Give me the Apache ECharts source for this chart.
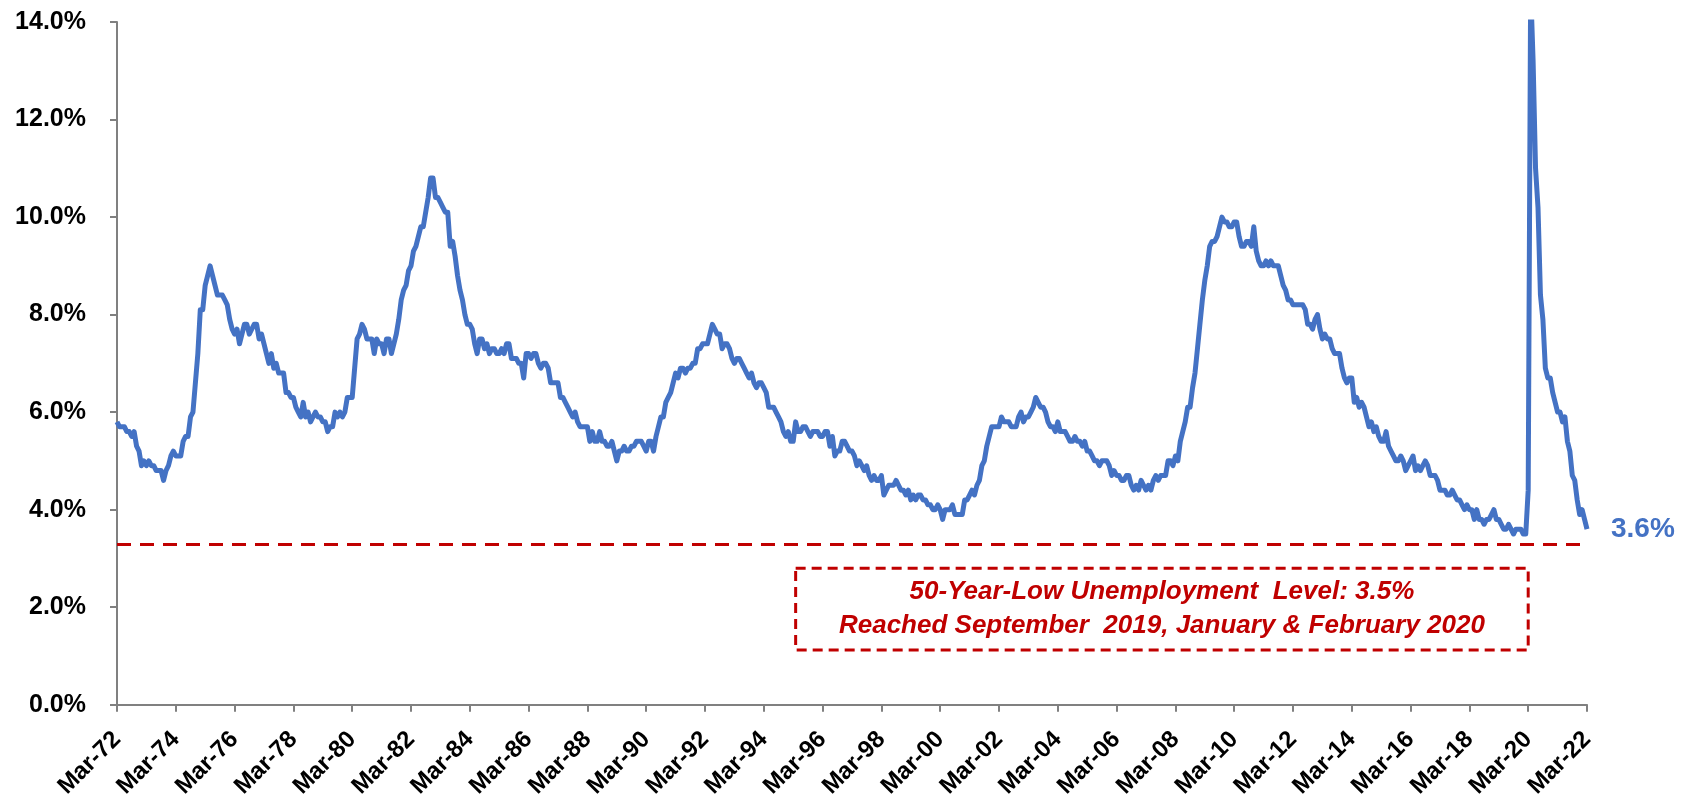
<!DOCTYPE html>
<html>
<head>
<meta charset="utf-8">
<script src="https://cdn.jsdelivr.net/npm/echarts@6/dist/echarts.min.js"></script>
<style>
html,body{margin:0;padding:0;background:#fff;}
#chart{width:1692px;height:801px;}
</style>
</head>
<body>
<div id="chart"></div>
<script>
// US unemployment rate (%), monthly, Mar-1972 .. Mar-2022
const u1970s = [
  5.8, 5.7, 5.7, 5.7, 5.6, 5.6, 5.5, 5.6, 5.3, 5.2,
  4.9, 5.0, 4.9, 5.0, 4.9, 4.9, 4.8, 4.8, 4.8, 4.6, 4.8, 4.9,
  5.1, 5.2, 5.1, 5.1, 5.1, 5.4, 5.5, 5.5, 5.9, 6.0, 6.6, 7.2,
  8.1, 8.1, 8.6, 8.8, 9.0, 8.8, 8.6, 8.4, 8.4, 8.4, 8.3, 8.2,
  7.9, 7.7, 7.6, 7.7, 7.4, 7.6, 7.8, 7.8, 7.6, 7.7, 7.8, 7.8,
  7.5, 7.6, 7.4, 7.2, 7.0, 7.2, 6.9, 7.0, 6.8, 6.8, 6.8, 6.4,
  6.4, 6.3, 6.3, 6.1, 6.0, 5.9, 6.2, 5.9, 6.0, 5.8, 5.9, 6.0,
  5.9, 5.9, 5.8, 5.8, 5.6, 5.7, 5.7, 6.0, 5.9, 6.0, 5.9, 6.0
];
const u1980s = [
  6.3, 6.3, 6.3, 6.9, 7.5, 7.6, 7.8, 7.7, 7.5, 7.5, 7.5, 7.2,
  7.5, 7.4, 7.4, 7.2, 7.5, 7.5, 7.2, 7.4, 7.6, 7.9, 8.3, 8.5,
  8.6, 8.9, 9.0, 9.3, 9.4, 9.6, 9.8, 9.8, 10.1, 10.4, 10.8, 10.8,
  10.4, 10.4, 10.3, 10.2, 10.1, 10.1, 9.4, 9.5, 9.2, 8.8, 8.5, 8.3,
  8.0, 7.8, 7.8, 7.7, 7.4, 7.2, 7.5, 7.5, 7.3, 7.4, 7.2, 7.3,
  7.3, 7.2, 7.2, 7.3, 7.2, 7.4, 7.4, 7.1, 7.1, 7.1, 7.0, 7.0,
  6.7, 7.2, 7.2, 7.1, 7.2, 7.2, 7.0, 6.9, 7.0, 7.0, 6.9, 6.6,
  6.6, 6.6, 6.6, 6.3, 6.3, 6.2, 6.1, 6.0, 5.9, 6.0, 5.8, 5.7,
  5.7, 5.7, 5.7, 5.4, 5.6, 5.4, 5.4, 5.6, 5.4, 5.4, 5.3, 5.3,
  5.4, 5.2, 5.0, 5.2, 5.2, 5.3, 5.2, 5.2, 5.3, 5.3, 5.4, 5.4
];
const u1990s = [
  5.4, 5.3, 5.2, 5.4, 5.4, 5.2, 5.5, 5.7, 5.9, 5.9, 6.2, 6.3,
  6.4, 6.6, 6.8, 6.7, 6.9, 6.9, 6.8, 6.9, 6.9, 7.0, 7.0, 7.3,
  7.3, 7.4, 7.4, 7.4, 7.6, 7.8, 7.7, 7.6, 7.6, 7.3, 7.4, 7.4,
  7.3, 7.1, 7.0, 7.1, 7.1, 7.0, 6.9, 6.8, 6.7, 6.8, 6.6, 6.5,
  6.6, 6.6, 6.5, 6.4, 6.1, 6.1, 6.1, 6.0, 5.9, 5.8, 5.6, 5.5,
  5.6, 5.4, 5.4, 5.8, 5.6, 5.6, 5.7, 5.7, 5.6, 5.5, 5.6, 5.6,
  5.6, 5.5, 5.5, 5.6, 5.6, 5.3, 5.5, 5.1, 5.2, 5.2, 5.4, 5.4,
  5.3, 5.2, 5.2, 5.1, 4.9, 5.0, 4.9, 4.8, 4.9, 4.7, 4.6, 4.7,
  4.6, 4.6, 4.7, 4.3, 4.4, 4.5, 4.5, 4.5, 4.6, 4.5, 4.4, 4.4,
  4.3, 4.4, 4.2, 4.3, 4.2, 4.3, 4.3, 4.2, 4.2, 4.1, 4.1, 4.0
];
const u2000s = [
  4.0, 4.1, 4.0, 3.8, 4.0, 4.0, 4.0, 4.1, 3.9, 3.9, 3.9, 3.9,
  4.2, 4.2, 4.3, 4.4, 4.3, 4.5, 4.6, 4.9, 5.0, 5.3, 5.5, 5.7,
  5.7, 5.7, 5.7, 5.9, 5.8, 5.8, 5.8, 5.7, 5.7, 5.7, 5.9, 6.0,
  5.8, 5.9, 5.9, 6.0, 6.1, 6.3, 6.2, 6.1, 6.1, 6.0, 5.8, 5.7,
  5.7, 5.6, 5.8, 5.6, 5.6, 5.6, 5.5, 5.4, 5.4, 5.5, 5.4, 5.4,
  5.3, 5.4, 5.2, 5.2, 5.1, 5.0, 5.0, 4.9, 5.0, 5.0, 5.0, 4.9,
  4.7, 4.8, 4.7, 4.7, 4.6, 4.6, 4.7, 4.7, 4.5, 4.4, 4.5, 4.4,
  4.6, 4.5, 4.4, 4.5, 4.4, 4.6, 4.7, 4.6, 4.7, 4.7, 4.7, 5.0,
  5.0, 4.9, 5.1, 5.0, 5.4, 5.6, 5.8, 6.1, 6.1, 6.5, 6.8, 7.3,
  7.8, 8.3, 8.7, 9.0, 9.4, 9.5, 9.5, 9.6, 9.8, 10.0, 9.9, 9.9
];
const u2010s = [
  9.8, 9.8, 9.9, 9.9, 9.6, 9.4, 9.4, 9.5, 9.5, 9.4, 9.8, 9.3,
  9.1, 9.0, 9.0, 9.1, 9.0, 9.1, 9.0, 9.0, 9.0, 8.8, 8.6, 8.5,
  8.3, 8.3, 8.2, 8.2, 8.2, 8.2, 8.2, 8.1, 7.8, 7.8, 7.7, 7.9,
  8.0, 7.7, 7.5, 7.6, 7.5, 7.5, 7.3, 7.2, 7.2, 7.2, 6.9, 6.7,
  6.6, 6.7, 6.7, 6.2, 6.3, 6.1, 6.2, 6.1, 5.9, 5.7, 5.8, 5.6,
  5.7, 5.5, 5.4, 5.4, 5.6, 5.3, 5.2, 5.1, 5.0, 5.0, 5.1, 5.0,
  4.8, 4.9, 5.0, 5.1, 4.8, 4.9, 4.8, 4.9, 5.0, 4.9, 4.7, 4.7,
  4.7, 4.6, 4.4, 4.4, 4.4, 4.3, 4.3, 4.4, 4.3, 4.2, 4.2, 4.1,
  4.0, 4.1, 4.0, 4.0, 3.8, 4.0, 3.8, 3.8, 3.7, 3.8, 3.8, 3.9,
  4.0, 3.8, 3.8, 3.7, 3.6, 3.6, 3.7, 3.6, 3.5, 3.6, 3.6, 3.6
];
const u2020s = [
  3.5, 3.5, 4.4, 14.7, 13.2, 11.0, 10.2, 8.4, 7.9, 6.9, 6.7, 6.7,
  6.4, 6.2, 6.0, 6.0, 5.8, 5.9, 5.4, 5.2, 4.7, 4.6, 4.2, 3.9,
  4.0, 3.8, 3.6
];

const monthNames = ['Jan','Feb','Mar','Apr','May','Jun','Jul','Aug','Sep','Oct','Nov','Dec'];
const startYear = 1972, startMonth = 2; // March
const yTicks = [0, 2, 4, 6, 8, 10, 12, 14];
const lowLine = 3.3;               // dashed reference line position
const noteBox = { from: 'Apr-95', to: 'Mar-20', low: 1.12, high: 2.8 };
const noteLines = ['50-Year-Low Unemployment  Level: 3.5%', 'Reached September  2019, January & February 2020'];
const lastLabel = '3.6%';

const values = [].concat(u1970s, u1980s, u1990s, u2000s, u2010s, u2020s);
const categories = values.map((v, i) => {
  const m = startMonth + i;
  const y = startYear + Math.floor(m / 12);
  return monthNames[m % 12] + '-' + String(y % 100).padStart(2, '0');
});

const FONT = '"Liberation Sans", Arial, sans-serif';
const chart = echarts.init(document.getElementById('chart'), null, { renderer: 'canvas' });
chart.setOption({
  animation: false,
  backgroundColor: '#ffffff',
  grid: { left: 117, right: 105, top: 22, bottom: 96, containLabel: false },
  xAxis: {
    type: 'category',
    data: categories,
    boundaryGap: false,
    axisLine: { show: true, lineStyle: { color: '#808080', width: 2 } },
    axisTick: { show: true, interval: 23, length: 7, lineStyle: { color: '#808080', width: 2 } },
    axisLabel: {
      interval: 23, rotate: 45, margin: 31,
      fontFamily: FONT, fontWeight: 'bold', fontSize: 24, color: '#000'
    },
    splitLine: { show: false }
  },
  yAxis: {
    type: 'value',
    min: yTicks[0], max: yTicks[yTicks.length - 1], interval: 2,
    axisLine: { show: true, lineStyle: { color: '#808080', width: 2 } },
    axisTick: { show: true, length: 7, lineStyle: { color: '#808080', width: 2 } },
    axisLabel: {
      margin: 31, fontFamily: FONT, fontWeight: 'bold', fontSize: 25, color: '#000',
      formatter: v => v.toFixed(1) + '%'
    },
    splitLine: { show: false }
  },
  series: [{
    type: 'line',
    data: values,
    showSymbol: false,
    symbol: 'none',
    clip: true,
    lineStyle: { color: '#4472C4', width: 5, join: 'round' },
    itemStyle: { color: '#4472C4' },
    endLabel: {
      show: true, formatter: lastLabel, distance: 24,
      fontFamily: FONT, fontWeight: 'bold', fontSize: 28, color: '#4472C4'
    },
    markLine: {
      silent: true, symbol: 'none', animation: false,
      label: { show: false },
      lineStyle: { color: '#C00000', width: 3, type: [14, 9] },
      data: [{ yAxis: lowLine }]
    },
    markArea: {
      silent: true,
      itemStyle: { color: 'rgba(0,0,0,0)', borderColor: '#C00000', borderWidth: 3, borderType: [10, 6] },
      label: {
        show: true, position: 'inside',
        formatter: noteLines.join('\n'),
        fontFamily: FONT, fontWeight: 'bold', fontStyle: 'italic', fontSize: 26, lineHeight: 34,
        color: '#C00000', align: 'center', verticalAlign: 'middle'
      },
      data: [[
        { xAxis: noteBox.from, yAxis: noteBox.high },
        { xAxis: noteBox.to, yAxis: noteBox.low }
      ]]
    }
  }]
});
</script>
</body>
</html>
